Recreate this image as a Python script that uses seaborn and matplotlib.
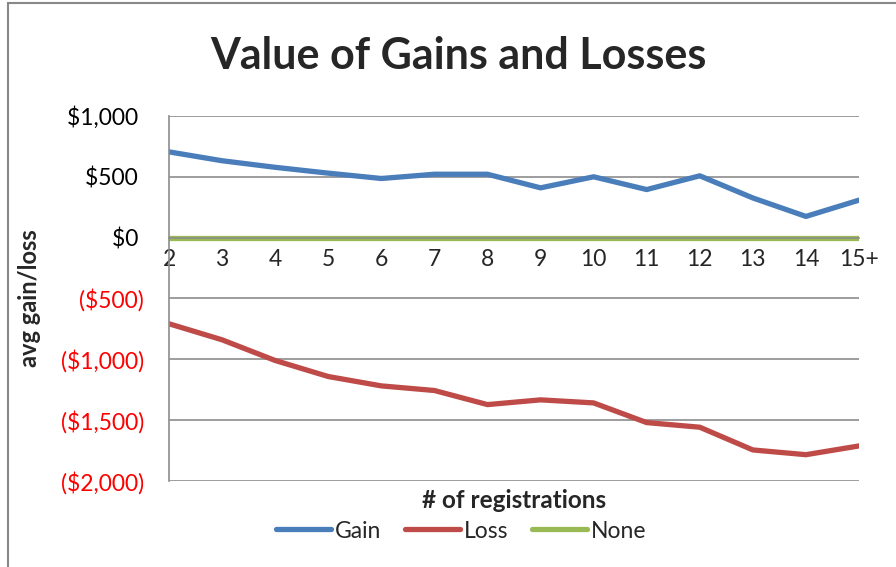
import pandas as pd
import numpy as np
import matplotlib.pyplot as plt
import seaborn as sns
from matplotlib.patches import Rectangle

registrations = ["2", "3", "4", "5", "6", "7", "8", "9", "10", "11", "12", "13", "14", "15+"]
gain = [705, 632, 578, 530, 486, 521, 521, 409, 500, 395, 508, 326, 174, 308]
loss = [-709, -841, -1011, -1143, -1220, -1258, -1374, -1335, -1360, -1522, -1560, -1747, -1786, -1714]
none = [0] * len(registrations)

y_ticks = [1000, 500, 0, -500, -1000, -1500, -2000]

df = pd.DataFrame({"registrations": registrations, "Gain": gain, "Loss": loss, "None": none})
long_df = df.melt(id_vars="registrations", var_name="Series", value_name="value")

sns.set_theme(style="white")
plt.rcParams["font.family"] = ["Lato", "DejaVu Sans"]

fig = plt.figure(figsize=(8.96, 5.67), dpi=100)
ax = fig.add_axes([169 / 896, 0.1522, 690 / 896, 0.6432])

colours = {"Gain": "#4A7EBB", "Loss": "#BE4B48", "None": "#98B954"}

sns.lineplot(
    data=long_df,
    x="registrations",
    y="value",
    hue="Series",
    palette=colours,
    sort=False,
    linewidth=3.8,
    ax=ax,
)

ax.set_xlim(0, len(registrations) - 1)
ax.set_ylim(-2000, 1000)
ax.set_yticks(y_ticks)

def money(v):
    if v < 0:
        return "(${:,.0f})".format(-v)
    return "${:,.0f} ".format(v)

ax.set_yticklabels([money(v) for v in y_ticks])
for lbl, v in zip(ax.get_yticklabels(), y_ticks):
    lbl.set_color("#FF0000" if v < 0 else "black")

ax.set_xticks(range(len(registrations)))
ax.set_xticklabels(registrations)

grid_col = "#8C8C8C"
ax.yaxis.grid(True, color=grid_col, linewidth=1.2)
ax.set_axisbelow(True)
for s in ["top", "right"]:
    ax.spines[s].set_visible(False)
ax.spines["left"].set_color(grid_col)
ax.spines["left"].set_linewidth(1.2)
ax.spines["bottom"].set_position(("data", 0))
ax.spines["bottom"].set_color(grid_col)
ax.spines["bottom"].set_linewidth(1.2)
ax.tick_params(axis="both", direction="out", width=1.2, color=grid_col, labelsize=16.5)
ax.tick_params(axis="x", length=5, pad=3)
ax.tick_params(axis="y", length=6, pad=12)

ax.set_xlabel("")
ax.set_ylabel("avg gain/loss", fontsize=17, fontweight="bold")
ax.yaxis.set_label_coords(-0.185, 0.5)
fig.text((169 + 859) / 2 / 896, 1 - 500 / 567, "# of registrations", ha="center", va="center",
         fontsize=17.5, fontweight="bold")
fig.text(458 / 896, 1 - 56 / 567, "Value of Gains and Losses", ha="center", va="center",
         fontsize=31, fontweight="bold")

handles, labels = ax.get_legend_handles_labels()
ax.legend(handles, labels, loc="center", bbox_to_anchor=(461 / 896, 1 - 531 / 567),
          bbox_transform=fig.transFigure, ncol=3, frameon=False, fontsize=16.5,
          handlelength=2.4, handletextpad=0.15, columnspacing=1.05, borderpad=0)

fig.patches.append(Rectangle((8 / 896, -0.1), 1.2, 1.1 - 3 / 567, transform=fig.transFigure,
                             fill=False, edgecolor="#888888", linewidth=1.5))

plt.savefig("out.png", dpi=100)
